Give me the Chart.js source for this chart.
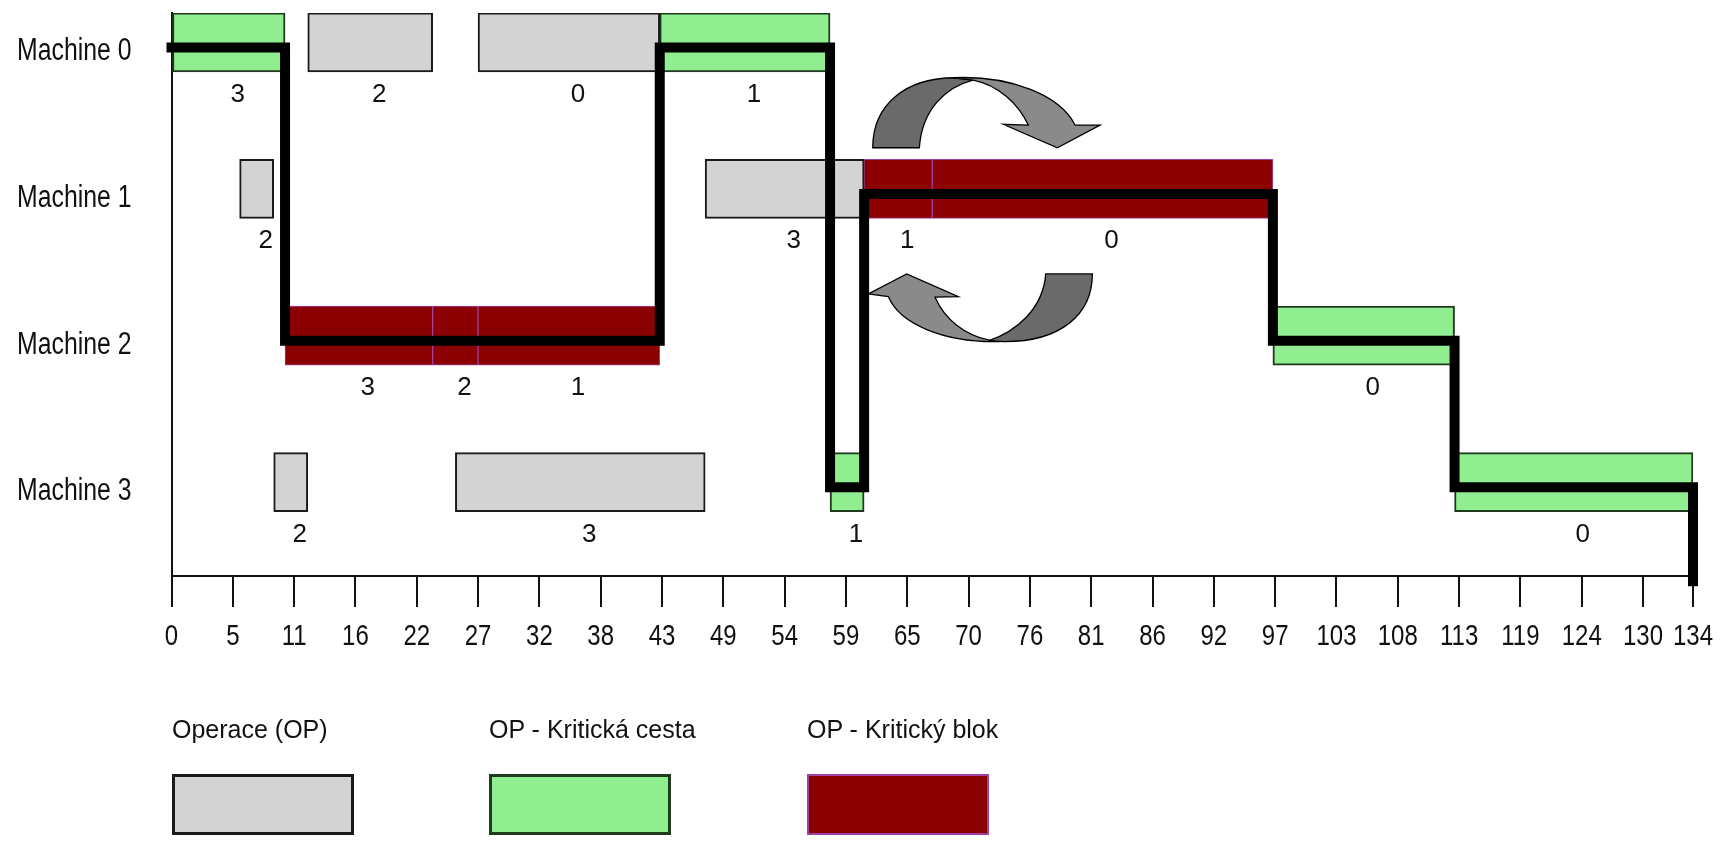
<!DOCTYPE html>
<html>
<head>
<meta charset="utf-8">
<script src="https://cdn.jsdelivr.net/npm/chart.js@4.4.1/dist/chart.umd.min.js"></script>
<style>
  html, body { margin: 0; padding: 0; background: #fff; }
  #wrap { position: relative; width: 1730px; height: 842px; overflow: hidden; }
  #chart { position: absolute; left: 0; top: 0; }
  .legend-item { position: absolute; top: 714px; font-family: "Liberation Sans", Arial, sans-serif; font-size: 25px; color: #111; }
  .legend-item span { display: block; height: 30px; line-height: 30px; white-space: nowrap; }
  .legend-item i { display: block; margin-top: 30px; width: 182px; height: 61px; box-sizing: border-box; }
</style>
</head>
<body>
<div id="wrap">
  <canvas id="chart" width="1730" height="842"></canvas>
  <div id="legend"></div>
</div>
<script>
// --- data -------------------------------------------------------------------
const MACHINES = ['Machine 0', 'Machine 1', 'Machine 2', 'Machine 3'];

// one entry per operation: machine row, job number, start, end, kind
const OP_MACHINE = [0, 0, 0, 0, 1, 1, 1, 1, 2, 2, 2, 2, 3, 3, 3, 3];
const OP_JOB     = [3, 2, 0, 1, 2, 3, 1, 0, 3, 2, 1, 0, 2, 3, 1, 0];
const OP_START   = [0, 12, 27, 43, 6, 47, 61, 67, 10, 23, 27, 97, 9, 25, 58, 113];
const OP_END     = [10, 23, 43, 58, 9, 61, 67, 97, 23, 27, 43, 113, 12, 47, 61, 134];
const OP_KIND    = ['path', 'op', 'op', 'path', 'op', 'op', 'block', 'block',
                    'block', 'block', 'block', 'path', 'op', 'op', 'path', 'path'];

const Y_MIN = -0.2;
const Y_MAX = 3.64;

// critical path (time, machine row); last point runs down to the time axis
const PATH_TIME    = [0, 10, 10, 43, 43, 58, 58, 61, 61, 97, 97, 113, 113, 134, 134];
const PATH_MACHINE = [0, 0, 2, 2, 0, 0, 3, 3, 1, 1, 2, 2, 3, 3, Y_MAX];

const X_TICKS = [0, 5.4, 10.8, 16.2, 21.6, 27, 32.4, 37.8, 43.2, 48.6, 54, 59.4, 64.8,
                 70.2, 75.6, 81, 86.4, 91.8, 97.2, 102.6, 108, 113.4, 118.8, 124.2, 129.6, 134];
const X_TICK_LABELS = ['0', '5', '11', '16', '22', '27', '32', '38', '43', '49', '54', '59', '65',
                       '70', '76', '81', '86', '92', '97', '103', '108', '113', '119', '124', '130', '134'];

const KINDS = ['op', 'path', 'block'];
const LEGEND_LABELS = ['Operace (OP)', 'OP - Kritická cesta', 'OP - Kritický blok'];

// --- styles -----------------------------------------------------------------
const KIND_STYLE = {
  op:    { bg: '#d3d3d3', border: '#1a1a1a', width: 2 },
  path:  { bg: '#90ee90', border: '#1f3a1f', width: 2 },
  block: { bg: '#8b0000', border: '#a040a0', width: 1 },
};
const FONT = '"Liberation Sans", Arial, sans-serif';
const PATH_OFFSET = 0.035;   // path runs a little below the bar centre
const LABEL_DX = 9;

function opsOf(kind) {
  const out = [];
  OP_KIND.forEach((k, i) => {
    if (k === kind) out.push({ x: [OP_START[i], OP_END[i]], y: OP_MACHINE[i], job: OP_JOB[i] });
  });
  return out;
}

// condensed text: the original axis labels are narrow, so squeeze horizontally
function narrowText(c, text, x, y, align, sx) {
  c.save();
  c.translate(x, y);
  c.scale(sx, 1);
  c.textAlign = align;
  c.fillText(text, 0, 0);
  c.restore();
}

// axis labels (machines on the left, times under the tick marks)
const axisLabels = {
  id: 'axisLabels',
  afterDraw(chart) {
    const { ctx: c, scales: { x, y }, chartArea } = chart;
    c.save();
    c.fillStyle = '#111';
    c.textBaseline = 'alphabetic';
    c.font = '31px ' + FONT;
    MACHINES.forEach((name, i) => {
      narrowText(c, name, chartArea.left - 40, y.getPixelForValue(i) + 18, 'right', 0.8);
    });
    c.font = '30px ' + FONT;
    X_TICKS.forEach((v, i) => {
      narrowText(c, X_TICK_LABELS[i], x.getPixelForValue(v), chartArea.bottom + 69, 'center', 0.8);
    });
    c.restore();
  },
};

// job numbers under every bar
const barLabels = {
  id: 'barLabels',
  afterDatasetsDraw(chart) {
    const c = chart.ctx;
    c.save();
    c.font = '26px ' + FONT;
    c.fillStyle = '#111';
    c.textAlign = 'center';
    c.textBaseline = 'alphabetic';
    chart.data.datasets.forEach((ds, di) => {
      if (ds.type !== 'bar') return;
      chart.getDatasetMeta(di).data.forEach((bar, i) => {
        const cx = (bar.x + bar.base) / 2 + LABEL_DX;
        const bottom = bar.y + bar.height / 2;
        c.fillText(String(ds.data[i].job), cx, bottom + 30);
      });
    });
    c.restore();
  },
};

// the two curved swap arrows between Machine 0/1 and 1/2
const swapArrows = {
  id: 'swapArrows',
  beforeDatasetsDraw(chart) {
    const { ctx: c, scales: { x, y } } = chart;
    const piece = (ox, oy, fill, draw) => {
      c.beginPath();
      draw((px, py) => [ox + px, oy + py]);
      c.closePath();
      c.fillStyle = fill;
      c.fill();
      c.stroke();
    };
    c.save();
    c.lineWidth = 1.3;
    c.strokeStyle = '#000';
    c.lineJoin = 'miter';

    // upper arrow (bends right, head pointing down)
    let ox = x.getPixelForValue(60.64), oy = y.getPixelForValue(0.155);
    piece(ox, oy, '#6a6a6a', (p) => {
      c.moveTo(...p(12.7, 82.7));
      c.bezierCurveTo(...p(12.7, 40), ...p(45, 12.7), ...p(95, 12.7));
      c.lineTo(...p(113, 15));
      c.bezierCurveTo(...p(85, 22), ...p(62, 45), ...p(59.3, 82.7));
    });
    piece(ox, oy, '#8a8a8a', (p) => {
      c.moveTo(...p(93, 12.7));
      c.bezierCurveTo(...p(150, 10), ...p(200, 30), ...p(215, 60));
      c.lineTo(...p(240, 60));
      c.lineTo(...p(197.3, 82.7));
      c.lineTo(...p(143.3, 59.3));
      c.lineTo(...p(168.3, 60));
      c.bezierCurveTo(...p(158, 38), ...p(138, 20), ...p(113, 15));
    });

    // lower arrow (bends left, head pointing up)
    ox = x.getPixelForValue(60.2); oy = y.getPixelForValue(1.484);
    piece(ox, oy, '#6a6a6a', (p) => {
      c.moveTo(...p(237.3, 14));
      c.bezierCurveTo(...p(237.3, 55), ...p(205, 81.7), ...p(150, 81.7));
      c.lineTo(...p(133.3, 81));
      c.bezierCurveTo(...p(160, 72), ...p(188, 50), ...p(190.7, 14));
    });
    piece(ox, oy, '#8a8a8a', (p) => {
      c.moveTo(...p(140, 81.7));
      c.bezierCurveTo(...p(90, 82), ...p(45, 65), ...p(33.3, 36.7));
      c.lineTo(...p(13.3, 34));
      c.lineTo(...p(51.7, 14));
      c.lineTo(...p(103.3, 36.7));
      c.lineTo(...p(80, 37.3));
      c.bezierCurveTo(...p(90, 60), ...p(110, 75), ...p(133.3, 80));
    });
    c.restore();
  },
};

const datasets = KINDS.map((kind) => ({
  type: 'bar',
  label: kind,
  indexAxis: 'y',
  data: opsOf(kind),
  backgroundColor: KIND_STYLE[kind].bg,
  borderColor: KIND_STYLE[kind].border,
  borderWidth: KIND_STYLE[kind].width,
  borderSkipped: false,
  barThickness: 59,
  grouped: false,
  order: 1,
}));

datasets.push({
  type: 'line',
  label: 'critical path',
  data: PATH_TIME.map((t, i) => ({ x: t, y: PATH_MACHINE[i] + PATH_OFFSET })),
  borderColor: '#000',
  borderWidth: 10,
  borderCapStyle: 'square',
  borderJoinStyle: 'miter',
  pointRadius: 0,
  tension: 0,
  fill: false,
  clip: false,
  order: 0,
});

new Chart(document.getElementById('chart'), {
  data: { datasets },
  plugins: [swapArrows, barLabels, axisLabels],
  options: {
    responsive: false,
    animation: false,
    layout: { padding: { top: 13, right: 37, bottom: 235, left: 0 } },
    plugins: { legend: { display: false }, tooltip: { enabled: false } },
    scales: {
      x: {
        type: 'linear',
        min: 0,
        max: 134,
        offset: false,
        afterBuildTicks: (s) => { s.ticks = X_TICKS.map((v) => ({ value: v })); },
        afterFit: (s) => { s.height = 31; },
        ticks: { display: false, autoSkip: false },
        grid: { drawOnChartArea: false, drawTicks: true, tickLength: 31, color: '#111', lineWidth: 2 },
        border: { display: true, color: '#111', width: 2 },
      },
      y: {
        type: 'linear',
        reverse: true,
        offset: false,
        min: Y_MIN,
        max: Y_MAX,
        afterBuildTicks: (s) => { s.ticks = MACHINES.map((_, i) => ({ value: i })); },
        afterFit: (s) => { s.width = 171.5; },
        ticks: { display: false },
        grid: { display: false, drawTicks: false },
        border: { display: true, color: '#111', width: 2 },
      },
    },
  },
});

// legend: caption above a swatch, as in the original
const legend = document.getElementById('legend');
const LEGEND_LEFT = [172, 489, 807];
KINDS.forEach((kind, i) => {
  const item = document.createElement('div');
  item.className = 'legend-item';
  item.style.left = LEGEND_LEFT[i] + 'px';
  const text = document.createElement('span');
  text.textContent = LEGEND_LABELS[i];
  const box = document.createElement('i');
  box.style.background = KIND_STYLE[kind].bg;
  box.style.border = (kind === 'block' ? 2 : 3) + 'px solid ' + KIND_STYLE[kind].border;
  item.appendChild(text);
  item.appendChild(box);
  legend.appendChild(item);
});
</script>
</body>
</html>
